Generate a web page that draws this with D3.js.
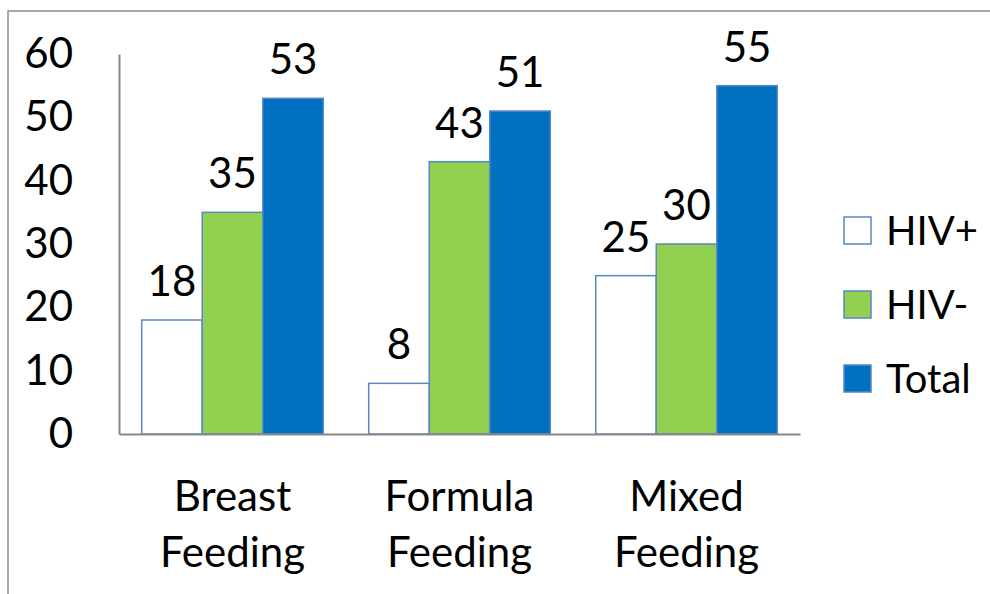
<!DOCTYPE html>
<html>
<head>
<meta charset="utf-8">
<script src="https://cdn.jsdelivr.net/npm/d3@7"></script>
<style>
  html, body { margin: 0; padding: 0; background: #fff; }
  svg { display: block; font-family: Lato, "Open Sans", sans-serif; }
</style>
</head>
<body>
<svg id="chart" width="990" height="594"></svg>
<script>
// Feeding practice categories (two-line labels)
const categories = ["Breast Feeding", "Formula Feeding", "Mixed Feeding"];
const categoryLines = [["Breast", "Feeding"], ["Formula", "Feeding"], ["Mixed", "Feeding"]];
const seriesNames = ["HIV+", "HIV-", "Total"];
const hivPositive = [18, 8, 25];
const hivNegative = [35, 43, 30];
const total = [53, 51, 55];
const yTicks = [0, 10, 20, 30, 40, 50, 60];

const seriesValues = [hivPositive, hivNegative, total];
const fills = ["#ffffff", "#92d050", "#0070c0"];
const outline = "#5b87c5";

const svg = d3.select("#chart");
svg.append("rect").attr("width", 990).attr("height", 594).attr("fill", "#fff");

// outer frame (left and top edges visible)
svg.append("path")
  .attr("d", "M8,594V11H990")
  .attr("fill", "none")
  .attr("stroke", "#8c8c8c")
  .attr("stroke-width", 1.5);

const plot = { left: 119, right: 800, top: 54, bottom: 434 };

const x0 = d3.scaleBand()
  .domain(categories)
  .range([plot.left, plot.right])
  .paddingInner(0.2)
  .paddingOuter(0.1);

const x1 = d3.scaleBand()
  .domain(seriesNames)
  .range([0, x0.bandwidth()])
  .padding(0);

const y = d3.scaleLinear().domain([0, 60]).range([plot.bottom, plot.top]);

// bars
const groups = svg.append("g").selectAll("g")
  .data(categories)
  .join("g")
  .attr("transform", d => `translate(${x0(d)},0)`);

groups.selectAll("rect")
  .data((c, ci) => seriesNames.map((s, si) => ({ s, si, v: seriesValues[si][ci] })))
  .join("rect")
  .attr("x", d => x1(d.s))
  .attr("y", d => y(d.v))
  .attr("width", x1.bandwidth())
  .attr("height", d => y(0) - y(d.v))
  .attr("fill", d => fills[d.si])
  .attr("stroke", outline)
  .attr("stroke-width", 1.5);

// value labels
groups.selectAll("text")
  .data((c, ci) => seriesNames.map((s, si) => ({ s, si, v: seriesValues[si][ci] })))
  .join("text")
  .attr("x", d => x1(d.s) + x1.bandwidth() / 2)
  .attr("y", d => y(d.v) - 24)
  .attr("text-anchor", "middle")
  .attr("font-size", 42)
  .attr("fill", "#000")
  .text(d => d.v);

// y axis
const yAxis = svg.append("g")
  .attr("transform", `translate(${plot.left},0)`)
  .call(d3.axisLeft(y).tickValues(yTicks).tickSize(0).tickPadding(46));
yAxis.select(".domain").attr("stroke", "#878787").attr("stroke-width", 2);
yAxis.selectAll("text").attr("font-size", 42).attr("fill", "#000")
  .attr("font-family", "Lato, 'Open Sans', sans-serif");

// x axis baseline
const xAxis = svg.append("g")
  .attr("transform", `translate(0,${plot.bottom})`)
  .call(d3.axisBottom(x0).tickSize(0).tickFormat(""));
xAxis.select(".domain").attr("stroke", "#878787").attr("stroke-width", 2);

// category labels
const catLabels = svg.append("g").selectAll("text")
  .data(categories)
  .join("text")
  .attr("text-anchor", "middle")
  .attr("font-size", 42)
  .attr("fill", "#000");
catLabels.each(function (d, i) {
  const t = d3.select(this);
  const cx = x0(d) + x0.bandwidth() / 2;
  categoryLines[i].forEach((line, li) => {
    t.append("tspan").attr("x", cx).attr("y", 511 + li * 56).text(line);
  });
});

// legend
const legend = svg.append("g").selectAll("g")
  .data(seriesNames)
  .join("g")
  .attr("transform", (d, i) => `translate(844,${217 + i * 74})`);
legend.append("rect")
  .attr("width", 27).attr("height", 27)
  .attr("fill", (d, i) => fills[i])
  .attr("stroke", outline)
  .attr("stroke-width", 1.5);
legend.append("text")
  .attr("x", 42)
  .attr("y", 28)
  .attr("font-size", 40)
  .attr("fill", "#000")
  .text(d => d);
</script>
</body>
</html>
